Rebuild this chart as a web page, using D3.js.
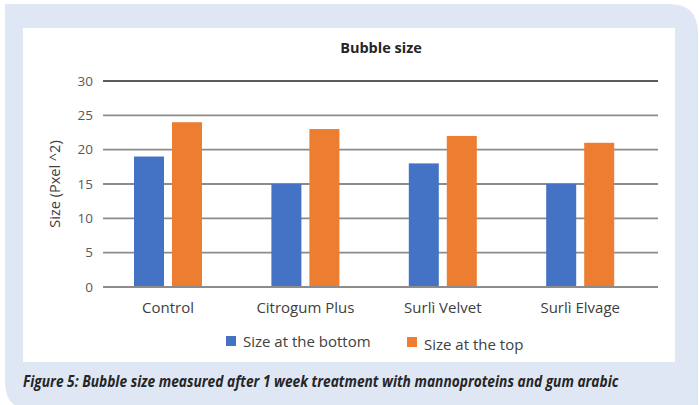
<!DOCTYPE html>
<html>
<head>
<meta charset="utf-8">
<script src="https://cdn.jsdelivr.net/npm/d3@7"></script>
<style>
  body { margin: 0; background: #fff; }
  text { font-family: 'Open Sans', sans-serif; }
</style>
</head>
<body>
<div id="chart"></div>
<script>
// donnees
const CATEGORIES = ['Control', 'Citrogum Plus', 'Surlì Velvet', 'Surlì Elvage']
const SERIES = ['Size at the bottom', 'Size at the top']
const BOTTOM = [19, 15, 18, 15]
const TOP = [24, 23, 22, 21]
const Y_TICKS = [0, 5, 10, 15, 20, 25, 30]
const COLORS = ['#4472c4', '#ed7d31']

const WIDTH = 699
const HEIGHT = 405
const Y0 = 287 // bas du graphique
const Y30 = 81
const GRID_LEFT = 103
const GRID_RIGHT = 658

const svg = d3.select('#chart').append('svg').attr('width', WIDTH).attr('height', HEIGHT)

// cadre bleu clair avec coins arrondis
svg.append('path')
    .attr('d', `M5,4 H669 Q698,4 698,33 V${HEIGHT + 5} H33 Q5,${HEIGHT + 5} 5,${HEIGHT - 23} Z`)
    .attr('fill', '#dfe7f5')
svg.append('rect')
    .attr('x', 23).attr('y', 28)
    .attr('width', 675 - 23).attr('height', 362 - 28)
    .attr('fill', '#fff')

const yScale = d3.scaleLinear().domain([0, 30]).range([Y0, Y30])

const x0 = d3.scaleBand().domain(CATEGORIES).range([99.3, 648.9]).padding(0)
const x1 = d3.scaleBand().domain(SERIES).range([0, 68]).paddingInner(0.2105).paddingOuter(0)

// lignes de grille
svg.append('g').selectAll('line')
    .data(Y_TICKS)
    .enter()
    .append('line')
    .attr('x1', GRID_LEFT).attr('x2', GRID_RIGHT)
    .attr('y1', d => yScale(d)).attr('y2', d => yScale(d))
    .attr('stroke', d => d === 30 ? '#262626' : '#8c8c8c')
    .attr('stroke-width', d => d === 30 ? 1.3 : 1.8)

const axisY = d3.axisLeft(yScale).tickValues(Y_TICKS).tickSize(0).tickPadding(0)
const gy = svg.append('g')
    .attr('transform', 'translate(93, 0)')
    .call(axisY)
gy.select('.domain').remove()
gy.selectAll('text')
    .attr('font-family', "'Open Sans', sans-serif")
    .attr('font-size', 13.5)
    .attr('fill', '#595959')

const rows = CATEGORIES.map((c, i) => ({ cat: c, vals: [BOTTOM[i], TOP[i]] }))

const groups = svg.append('g').selectAll('g')
    .data(rows)
    .enter()
    .append('g')
    .attr('transform', d => `translate(${x0(d.cat) + x0.bandwidth() / 2 - 34}, 0)`)

groups.selectAll('rect')
    .data(d => d.vals.map((v, j) => ({ s: SERIES[j], v: v, j: j })))
    .enter()
    .append('rect')
    .attr('x', d => x1(d.s))
    .attr('width', x1.bandwidth())
    .attr('y', d => yScale(d.v))
    .attr('height', d => Y0 - yScale(d.v))
    .attr('fill', d => COLORS[d.j])

// l'axe du bas est redessine par dessus les batons
svg.append('line')
    .attr('x1', GRID_LEFT).attr('x2', GRID_RIGHT)
    .attr('y1', Y0).attr('y2', Y0)
    .attr('stroke', '#8c8c8c').attr('stroke-width', 1.8)

const axisX = d3.axisBottom(x0).tickSize(0).tickPadding(0)
const gx = svg.append('g')
    .attr('transform', `translate(0, ${Y0 + 15})`)
    .call(axisX)
gx.select('.domain').remove()
gx.selectAll('text')
    .attr('font-family', "'Open Sans', sans-serif")
    .attr('font-size', 15)
    .attr('fill', '#404040')

// titre
svg.append('text')
    .attr('x', 381).attr('y', 53)
    .attr('text-anchor', 'middle')
    .attr('font-size', 14.5)
    .attr('font-weight', 'bold')
    .attr('fill', '#262626')
    .text('Bubble size')

svg.append('text')
    .attr('transform', 'translate(60, 184) rotate(-90)')
    .attr('text-anchor', 'middle')
    .attr('font-size', 14.5)
    .attr('fill', '#404040')
    .text('Size (Pxel ^2)')

// legende
const legendPos = [{ x: 226, y: 336 }, { x: 407, y: 337 }]
const legend = svg.append('g').selectAll('g')
    .data(SERIES)
    .enter()
    .append('g')
    .attr('transform', (d, i) => `translate(${legendPos[i].x}, ${legendPos[i].y})`)
legend.append('rect')
    .attr('width', 10).attr('height', 10)
    .attr('fill', (d, i) => COLORS[i])
legend.append('text')
    .attr('x', 17).attr('y', (d, i) => i === 0 ? 11 : 13)
    .attr('font-size', 15)
    .attr('fill', '#404040')
    .text(d => d)

// legende de la figure : police condensee simulee par un scaleX
const caption = svg.append('text')
    .attr('x', 0).attr('y', 0)
    .attr('font-size', 16)
    .attr('font-weight', 'bold')
    .attr('font-style', 'italic')
    .attr('fill', '#262626')
    .text('Figure 5: Bubble size measured after 1 week treatment with mannoproteins and gum arabic')
const capW = caption.node().getComputedTextLength()
caption.attr('transform', `translate(23, 387) scale(${596 / capW}, 1)`)
</script>
</body>
</html>
